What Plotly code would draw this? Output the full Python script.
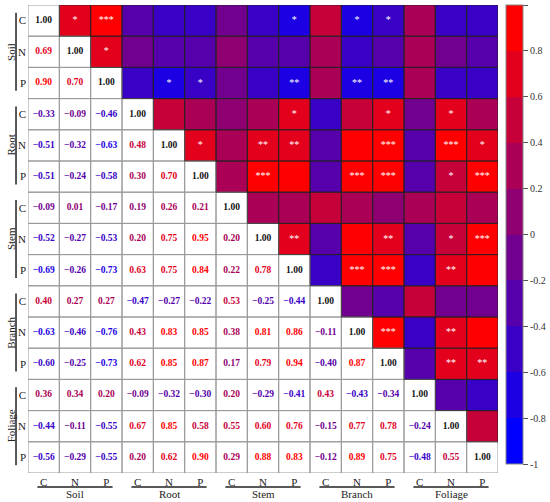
import plotly.graph_objects as go
import numpy as np

elements = ["C", "N", "P"]
groups = ["Soil", "Root", "Stem", "Branch", "Foliage"]

# lower triangle (row i, cols 0..i)
lower = [
    [1.00],
    [0.69, 1.00],
    [0.90, 0.70, 1.00],
    [-0.33, -0.09, -0.46, 1.00],
    [-0.51, -0.32, -0.63, 0.48, 1.00],
    [-0.51, -0.24, -0.58, 0.30, 0.70, 1.00],
    [-0.09, 0.01, -0.17, 0.19, 0.26, 0.21, 1.00],
    [-0.52, -0.27, -0.53, 0.20, 0.75, 0.95, 0.20, 1.00],
    [-0.69, -0.26, -0.73, 0.63, 0.75, 0.84, 0.22, 0.78, 1.00],
    [0.40, 0.27, 0.27, -0.47, -0.27, -0.22, 0.53, -0.25, -0.44, 1.00],
    [-0.63, -0.46, -0.76, 0.43, 0.83, 0.85, 0.38, 0.81, 0.86, -0.11, 1.00],
    [-0.60, -0.25, -0.73, 0.62, 0.85, 0.87, 0.17, 0.79, 0.94, -0.40, 0.87, 1.00],
    [0.36, 0.34, 0.20, -0.09, -0.32, -0.30, 0.20, -0.29, -0.41, 0.43, -0.43, -0.34, 1.00],
    [-0.44, -0.11, -0.55, 0.67, 0.85, 0.58, 0.55, 0.60, 0.76, -0.15, 0.77, 0.78, -0.24, 1.00],
    [-0.56, -0.29, -0.55, 0.20, 0.62, 0.90, 0.29, 0.88, 0.83, -0.12, 0.89, 0.75, -0.48, 0.55, 1.00],
]

# significance marks in the upper triangle: (row, col, mark)
sig = [
    (0, 1, "*"), (0, 2, "***"), (0, 8, "*"), (0, 10, "*"), (0, 11, "*"),
    (1, 2, "*"),
    (2, 4, "*"), (2, 5, "*"), (2, 8, "**"), (2, 10, "**"), (2, 11, "**"),
    (3, 8, "*"), (3, 11, "*"), (3, 13, "*"),
    (4, 5, "*"), (4, 7, "**"), (4, 8, "**"), (4, 11, "***"), (4, 13, "***"), (4, 14, "*"),
    (5, 7, "***"), (5, 10, "***"), (5, 11, "***"), (5, 13, "*"), (5, 14, "***"),
    (7, 8, "**"), (7, 11, "**"), (7, 13, "*"), (7, 14, "***"),
    (8, 10, "***"), (8, 11, "***"), (8, 13, "**"),
    (10, 11, "***"), (10, 13, "**"),
    (11, 13, "**"), (11, 14, "**"),
]

cbar_ticks = [-1, -0.8, -0.6, -0.4, -0.2, 0, 0.2, 0.4, 0.6, 0.8, 1]
cbar_labels = ["-1", "-0.8", "-0.6", "-0.4", "-0.2", "0", "0.2", "0.4", "0.6", "0.8", "1"]

n = len(lower)
M = np.full((n, n), np.nan)
for i, row in enumerate(lower):
    for j, v in enumerate(row):
        M[i, j] = v
        M[j, i] = v

# discrete blue->red scale, 10 bins
nb = 10
bin_colors = ["rgb(%d,0,%d)" % (round(255 * k / (nb - 1)), round(255 * (nb - 1 - k) / (nb - 1))) for k in range(nb)]
cscale = []
for k, c in enumerate(bin_colors):
    cscale.append([k / nb, c])
    cscale.append([(k + 1) / nb, c])

def color_of(v):
    k = int(np.floor((v + 1) / 2 * nb))
    k = min(max(k, 0), nb - 1)
    return bin_colors[k]

Z = np.full((n, n), np.nan)
for i in range(n):
    for j in range(i + 1, n):
        Z[i, j] = M[i, j]

idx = list(range(n))
fig = go.Figure()
fig.add_trace(go.Heatmap(
    z=Z, x=idx, y=idx, colorscale=cscale, zmin=-1, zmax=1,
    hoverongaps=False, showscale=True,
    colorbar=dict(
        x=1.017, xanchor="left", y=1.0, yanchor="top", len=0.98, lenmode="fraction",
        xpad=0, ypad=0,
        thickness=17, outlinewidth=1, outlinecolor="#888",
        tickvals=cbar_ticks, ticktext=cbar_labels,
        ticks="outside", ticklen=5, tickcolor="#555",
        tickfont=dict(family="Liberation Serif", size=10, color="#333"),
    ),
))

# cell borders
shapes = []
for i in range(n):
    for j in range(n):
        if j <= i:
            shapes.append(dict(type="rect", xref="x", yref="y", x0=j - 0.5, x1=j + 0.5,
                               y0=i - 0.5, y1=i + 0.5, line=dict(color="#9a9a9a", width=1), layer="above"))
for i in range(n):
    for j in range(i + 1, n):
        shapes.append(dict(type="rect", xref="x", yref="y", x0=j - 0.5, x1=j + 0.5,
                           y0=i - 0.5, y1=i + 0.5, line=dict(color="#222", width=0.8), layer="above"))

# lower triangle numbers
lx, ly, lt, lc = [], [], [], []
dx, dy = [], []
for i, row in enumerate(lower):
    for j, v in enumerate(row):
        if i == j:
            dx.append(j); dy.append(i)
        else:
            lx.append(j); ly.append(i)
            lt.append(("%.2f" % v).replace("-", "−"))
            lc.append(color_of(v))
fig.add_trace(go.Scatter(x=lx, y=ly, text=lt, mode="text", hoverinfo="skip",
                         textfont=dict(family="Liberation Serif", size=9.5, color=lc, weight="bold")))
fig.add_trace(go.Scatter(x=dx, y=dy, text=["%.2f" % M[i, i] for i in dy], mode="text", hoverinfo="skip",
                         textfont=dict(family="Liberation Serif", size=9.5, color="#111", weight="bold")))
fig.add_trace(go.Scatter(x=[s[1] for s in sig], y=[s[0] for s in sig], text=[s[2] for s in sig],
                         mode="text", hoverinfo="skip",
                         textfont=dict(family="Liberation Serif", size=10, color="white")))

# group labels and bracket lines
annotations = []
for g, name in enumerate(groups):
    c0 = 3 * g
    mid = c0 + 1
    # bottom
    shapes.append(dict(type="line", xref="x", yref="paper", x0=c0 - 0.2, x1=c0 + 2.2,
                       y0=-0.030, y1=-0.030, line=dict(color="#222", width=1.5)))
    annotations.append(dict(x=mid, y=-0.044, xref="x", yref="paper", text=name, showarrow=False,
                            yanchor="middle", font=dict(family="Liberation Serif", size=11, color="#222")))
    # left
    shapes.append(dict(type="line", xref="paper", yref="y", x0=-0.0255, x1=-0.0255,
                       y0=c0 - 0.25, y1=c0 + 2.25, line=dict(color="#222", width=1.5)))
    annotations.append(dict(x=-0.036, y=mid, xref="paper", yref="y", text=name, showarrow=False,
                            textangle=-90, xanchor="center",
                            font=dict(family="Liberation Serif", size=11, color="#222")))

tick_text = elements * len(groups)
fig.update_layout(
    width=550, height=502,
    margin=dict(l=28, r=52, t=5, b=29, autoexpand=False),
    plot_bgcolor="white", paper_bgcolor="white",
    showlegend=False,
    shapes=shapes, annotations=annotations,
    xaxis=dict(tickvals=idx, ticktext=tick_text, range=[-0.5, n - 0.5], showgrid=False, zeroline=False,
               ticks="", ticklabelstandoff=1, automargin=False,
               tickfont=dict(family="Liberation Serif", size=11, color="#222")),
    yaxis=dict(tickvals=idx, ticktext=tick_text, range=[n - 0.5, -0.5], showgrid=False, zeroline=False,
               ticks="", ticklabelstandoff=1, automargin=False,
               tickfont=dict(family="Liberation Serif", size=11, color="#222")),
)

fig.write_html("out.html", config={"displayModeBar": False},
               post_script="document.body.style.margin='0px';document.body.style.padding='0px';"
                           "document.documentElement.style.overflow='hidden';")
